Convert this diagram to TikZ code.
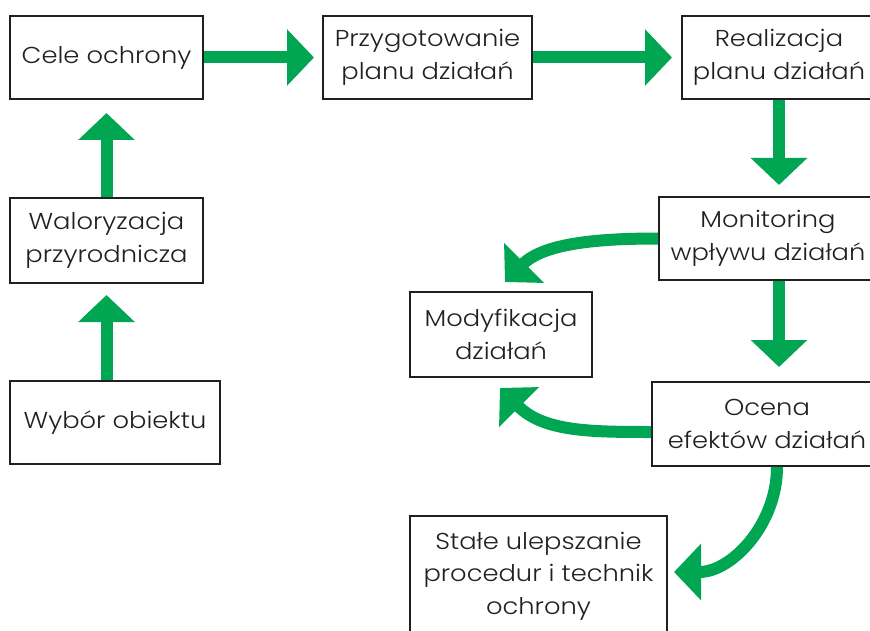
\documentclass[tikz,border=0pt]{standalone}
\usepackage{fontspec}
\setmainfont{Poppins}[UprightFont=* Light, FakeStretch=1.12]
\usetikzlibrary{arrows.meta}
\definecolor{gr}{HTML}{00A651}
\definecolor{ink}{HTML}{231F20}
\tikzset{
  box/.style={draw=ink, line width=2pt, fill=white, text=ink, align=center,
    inner sep=0pt, font=\fontsize{23}{32.5}\selectfont},
  garrow/.style={draw=gr, line width=12pt,
    -{Triangle[length=27pt, width=55pt]}},
}
\begin{document}
\begin{tikzpicture}[x=1pt, y=-1pt]
\useasboundingbox (0,0) rectangle (870,631);
\node[box, minimum width=193pt, minimum height=83pt] (cele) at (106.5,57.5) {Cele ochrony};
\node[box, minimum width=209pt, minimum height=83pt] (przyg) at (427.5,57.5) {Przygotowanie\\planu działań};
\node[box, minimum width=194pt, minimum height=83pt] (real) at (779,57.5) {Realizacja\\planu działań};
\node[box, minimum width=218pt, minimum height=83pt] (monit) at (768,238.5) {Monitoring\\wpływu działań};
\node[box, minimum width=230pt, minimum height=84pt] (ocena) at (767,424) {Ocena\\efektów działań};
\node[box, minimum width=182pt, minimum height=85pt] (mod) at (501,334.5) {Modyfikacja\\działań};
\node[box, minimum width=257pt, minimum height=120pt] (stale) at (538.5,576) {Stałe ulepszanie\\procedur i technik\\ochrony};
\node[box, minimum width=193pt, minimum height=85pt] (walor) at (106.5,240.5) {Waloryzacja\\przyrodnicza};
\node[box, minimum width=210pt, minimum height=83pt] (wybor) at (115,422.5) {Wybór obiektu};

\draw[garrow, shorten >=8pt] (cele.east) -- (przyg.west);
\draw[garrow, shorten >=9pt] (przyg.east) -- (real.west);
\draw[garrow, shorten >=11pt] (real.south) -- (real.south |- monit.north);
\draw[garrow, shorten >=14pt] (monit.south -| real.south) -- (ocena.north -| real.south);
\draw[garrow, shorten >=13pt] (walor.north) -- (cele.south);
\draw[garrow, shorten >=11pt] (wybor.north -| walor.north) -- (walor.south);

\draw[garrow] (monit.west) to[out=180, in=45, looseness=0.9] ([shift={(4,-9)}]mod.north);
\draw[garrow] ([shift={(0,8)}]ocena.west) to[out=180, in=-45] ([shift={(-1,10)}]mod.south);
\draw[garrow] ([shift={(10,0)}]ocena.south) to[out=-90, in=0] ([shift={(6,-4)}]stale.east);
\end{tikzpicture}
\end{document}
